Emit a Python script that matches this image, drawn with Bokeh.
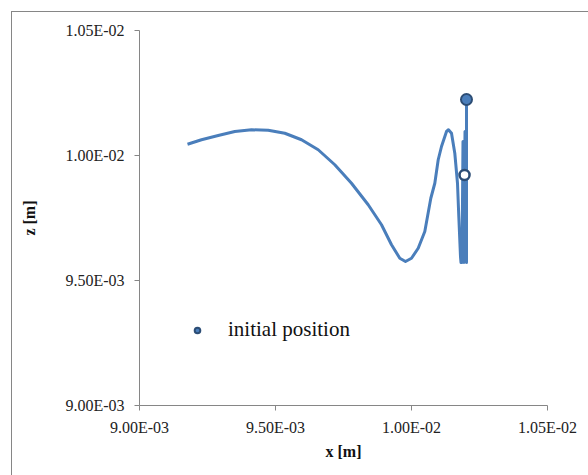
from bokeh.plotting import figure
from bokeh.models import Range1d, FixedTicker, Legend, LegendItem, CustomJSTickFormatter
from bokeh.embed import file_html
from bokeh.resources import INLINE

# trajectory (x, z) in metres (starts at the initial position)
traj_x = [10.2022e-3, 10.2022e-3, 10.1967e-3, 10.1930e-3, 10.1893e-3, 10.1857e-3,
          10.1820e-3, 10.1801e-3, 10.1739e-3, 10.1691e-3, 10.1592e-3, 10.1471e-3,
          10.1360e-3, 10.1287e-3, 10.1103e-3, 10.0982e-3, 10.0857e-3, 10.0710e-3,
          10.0489e-3, 10.0246e-3, 10.0000e-3, 9.9779e-3, 9.9570e-3, 9.9265e-3,
          9.8897e-3, 9.8408e-3, 9.7794e-3, 9.7180e-3, 9.6570e-3, 9.5956e-3,
          9.5342e-3, 9.4732e-3, 9.4118e-3, 9.3504e-3, 9.2893e-3, 9.2279e-3, 9.1765e-3]
traj_z = [10.224e-3, 9.572e-3, 10.096e-3, 9.572e-3, 10.056e-3, 9.572e-3,
          9.572e-3, 9.596e-3, 9.756e-3, 9.889e-3, 10.009e-3, 10.089e-3,
          10.103e-3, 10.096e-3, 10.036e-3, 9.983e-3, 9.889e-3, 9.829e-3,
          9.696e-3, 9.629e-3, 9.589e-3, 9.576e-3, 9.589e-3, 9.643e-3,
          9.723e-3, 9.803e-3, 9.889e-3, 9.963e-3, 10.023e-3, 10.063e-3,
          10.089e-3, 10.101e-3, 10.103e-3, 10.096e-3, 10.080e-3, 10.063e-3, 10.045e-3]

init_x = [10.2022e-3]
init_z = [10.224e-3]
other_x = [10.195e-3]
other_z = [9.922e-3]

tick_values = [9.0e-3, 9.5e-3, 1.0e-2, 1.05e-2]
tick_labels = ["9.00E-03", "9.50E-03", "1.00E-02", "1.05E-02"]

FONT = "'Liberation Serif', serif"
GRAY = "#868686"

p = figure(width=577, height=464, output_backend="svg", toolbar_location=None,
           x_range=Range1d(9.0e-3, 1.05e-2), y_range=Range1d(9.0e-3, 1.05e-2),
           min_border_left=127, min_border_right=42, min_border_top=18,
           min_border_bottom=71)
p.margin = (11, 0, 0, 11)
p.styles = {"border-left": "1px solid #868686", "border-top": "1px solid #868686"}
p.outline_line_color = None
p.xgrid.visible = False
p.ygrid.visible = False

fmt = CustomJSTickFormatter(args=dict(vals=tick_values, labs=tick_labels), code="""
    for (let i = 0; i < vals.length; i++) {
        if (Math.abs(vals[i] - tick) < 1e-9) { return labs[i]; }
    }
    return "";
""")
for ax in (p.xaxis[0], p.yaxis[0]):
    ax.ticker = FixedTicker(ticks=tick_values)
    ax.formatter = fmt
    ax.axis_line_color = GRAY
    ax.major_tick_line_color = GRAY
    ax.major_tick_in = 0
    ax.major_tick_out = 5
    ax.minor_tick_line_color = None
    ax.major_label_text_font = FONT
    ax.major_label_text_font_size = "16px"
    ax.major_label_text_color = "#222222"
    ax.axis_label_text_font = FONT
    ax.axis_label_text_font_size = "16px"
    ax.axis_label_text_font_style = "bold"
    ax.axis_label_text_color = "#111111"

p.xaxis.axis_label = "x [m]"
p.yaxis.axis_label = "z [m]"
p.xaxis.major_label_standoff = 8
p.xaxis.axis_label_standoff = 4
p.yaxis.major_label_standoff = 10
p.yaxis.axis_label_standoff = 24

p.line(traj_x, traj_z, line_color="#4a7ebb", line_width=3, line_join="round")
p.scatter(other_x, other_z, size=10, fill_color="white", line_color="#2c4d75",
          line_width=2.5)
r_init = p.scatter(init_x, init_z, size=11, fill_color="#4a7ebb",
                   line_color="#2c4d75", line_width=2)

legend = Legend(items=[LegendItem(label="initial position", renderers=[r_init])],
                location=(51, 63), border_line_color=None,
                background_fill_alpha=0, padding=0, margin=0,
                glyph_width=14, glyph_height=20, label_standoff=24,
                label_text_font=FONT, label_text_font_size="21px",
                label_text_color="#111111")
p.add_layout(legend)

open("out.html", "w").write(file_html(p, INLINE))
